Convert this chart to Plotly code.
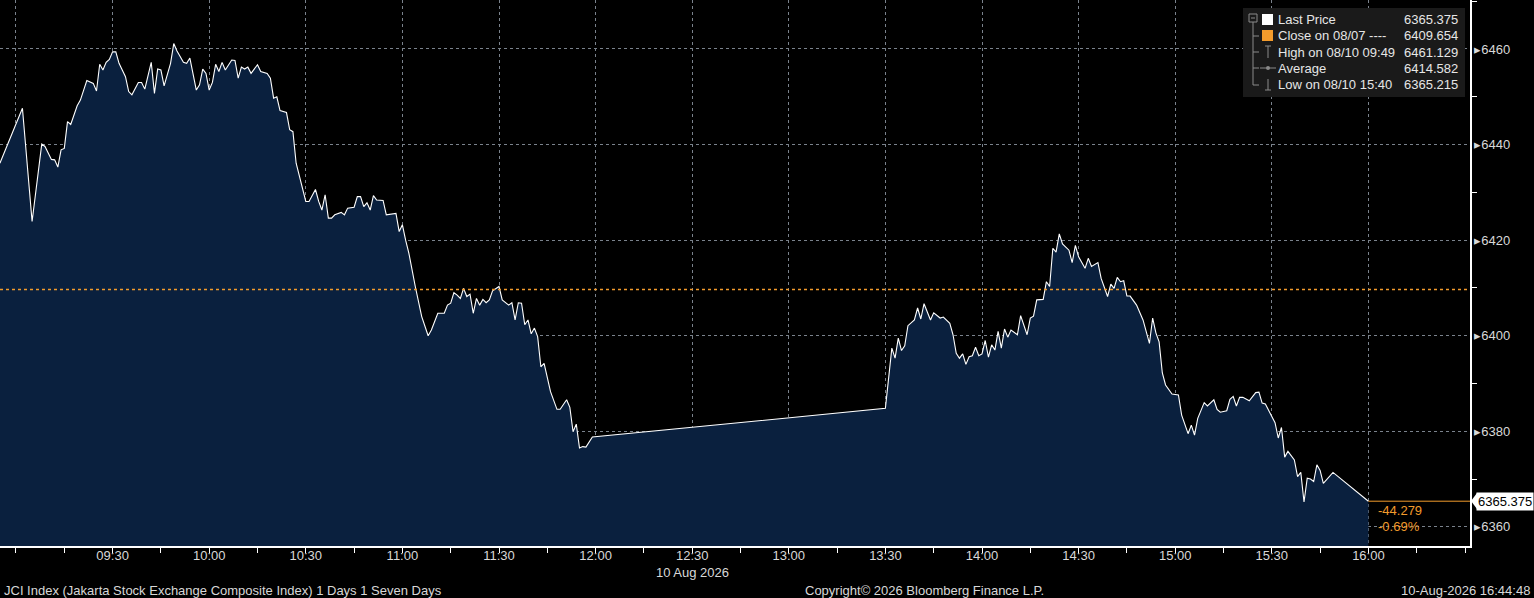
import plotly.graph_objects as go

# Intraday prints (10 Aug 2026, JCI)
day = '2026-08-10 '
times = ['08:55', '09:00', '09:02', '09:05', '09:08', '09:09', '09:11', '09:12', '09:13', '09:14',
         '09:15', '09:16', '09:17', '09:19', '09:20', '09:22', '09:24', '09:25', '09:26', '09:27',
         '09:28', '09:29', '09:30', '09:31', '09:32', '09:34', '09:35', '09:36', '09:38', '09:39',
         '09:40', '09:42', '09:43', '09:44', '09:45', '09:46', '09:48', '09:49', '09:50', '09:52',
         '09:53', '09:54', '09:56', '09:57', '09:58', '09:59', '10:00', '10:01', '10:02', '10:03',
         '10:04', '10:05', '10:07', '10:08', '10:09', '10:10', '10:11', '10:12', '10:13', '10:15',
         '10:16', '10:18', '10:19', '10:20', '10:21', '10:22', '10:24', '10:25', '10:26', '10:27',
         '10:28', '10:30', '10:31', '10:33', '10:34', '10:35', '10:36', '10:37', '10:38', '10:39',
         '10:41', '10:42', '10:43', '10:45', '10:46', '10:47', '10:48', '10:49', '10:50', '10:51',
         '10:52', '10:54', '10:55', '10:58', '10:59', '11:00', '11:01', '11:02', '11:04', '11:05',
         '11:06', '11:08', '11:09', '11:11', '11:13', '11:14', '11:15', '11:16', '11:17', '11:18',
         '11:19', '11:20', '11:21', '11:22', '11:23', '11:24', '11:25', '11:26', '11:27', '11:28',
         '11:30', '11:31', '11:33', '11:34', '11:35', '11:36', '11:37', '11:38', '11:39', '11:40',
         '11:41', '11:42', '11:43', '11:44', '11:46', '11:48', '11:49', '11:51', '11:52', '11:53',
         '11:54', '11:55', '11:56', '11:57', '11:59',
         '13:30', '13:32', '13:33', '13:34', '13:35', '13:36', '13:37', '13:39', '13:40', '13:41',
         '13:42', '13:44', '13:45', '13:47', '13:48', '13:50', '13:51', '13:52', '13:53', '13:54',
         '13:55', '13:56', '13:57', '13:58', '13:59', '14:00', '14:01', '14:02', '14:03', '14:04',
         '14:05', '14:06', '14:07', '14:08', '14:09', '14:11', '14:12', '14:13', '14:14', '14:15',
         '14:16', '14:17', '14:19', '14:20', '14:21', '14:22', '14:23', '14:24', '14:25', '14:27',
         '14:28', '14:29', '14:30', '14:32', '14:33', '14:34', '14:36', '14:37', '14:39', '14:40',
         '14:41', '14:42', '14:43', '14:44', '14:45', '14:46', '14:48', '14:50', '14:52', '14:53',
         '14:54', '14:55', '14:56', '14:57', '14:59', '15:01', '15:02', '15:04', '15:05', '15:06',
         '15:07', '15:09', '15:10', '15:12', '15:13', '15:14', '15:16', '15:17', '15:18', '15:19',
         '15:20', '15:21', '15:23', '15:25', '15:26', '15:27', '15:28', '15:30', '15:31', '15:32',
         '15:33', '15:34', '15:35', '15:37', '15:38', '15:39', '15:40', '15:41', '15:42', '15:43',
         '15:44', '15:45', '15:46', '15:49', '16:00']
prices = [6436.1, 6444.1, 6447.6, 6423.9, 6440.1, 6439.6, 6436.9, 6436.8, 6435.3, 6438.9,
          6439.2, 6444.8, 6444.2, 6448.1, 6449.3, 6453.4, 6452.8, 6451.2, 6456.8, 6455.6,
          6457.2, 6457.8, 6459.4, 6459.4, 6457.0, 6454.2, 6451.1, 6450.4, 6453.0, 6453.0,
          6451.6, 6457.2, 6450.7, 6455.8, 6455.6, 6452.3, 6457.0, 6461.129, 6459.6, 6457.2,
          6457.0, 6458.1, 6451.4, 6452.5, 6455.8, 6454.9, 6451.4, 6453.0, 6456.8, 6455.3,
          6457.2, 6455.6, 6457.7, 6457.6, 6453.9, 6456.2, 6455.8, 6456.2, 6454.9, 6456.7,
          6455.3, 6454.9, 6453.9, 6449.7, 6450.0, 6447.1, 6446.7, 6443.1, 6442.7, 6436.1,
          6433.3, 6428.1, 6428.1, 6430.6, 6428.1, 6426.3, 6429.5, 6424.6, 6424.6, 6425.3,
          6425.8, 6425.3, 6426.7, 6426.9, 6429.1, 6429.1, 6427.0, 6427.8, 6426.3, 6429.3,
          6428.4, 6428.3, 6425.3, 6425.6, 6421.8, 6423.2, 6420.0, 6417.3, 6410.3, 6406.8,
          6404.0, 6400.0, 6401.2, 6404.7, 6404.7, 6406.4, 6406.8, 6409.0, 6408.5, 6407.8,
          6409.9, 6408.2, 6408.7, 6404.7, 6407.8, 6406.4, 6407.6, 6406.9, 6407.5, 6409.4,
          6410.3, 6407.5, 6406.4, 6406.9, 6403.3, 6406.9, 6406.8, 6402.3, 6403.3, 6400.4,
          6401.6, 6399.8, 6393.5, 6394.2, 6388.3, 6384.6, 6384.6, 6386.6, 6385.0, 6379.9,
          6381.5, 6376.5, 6376.8, 6376.7, 6378.8,
          6384.8, 6397.4, 6395.3, 6399.5, 6396.9, 6397.9, 6402.1, 6403.3, 6405.8, 6403.5,
          6406.7, 6403.3, 6404.8, 6403.7, 6403.9, 6402.6, 6400.2, 6396.3, 6395.3, 6396.2,
          6394.0, 6395.6, 6395.8, 6397.6, 6395.8, 6396.2, 6399.0, 6395.5, 6398.1, 6397.0,
          6400.9, 6397.4, 6401.4, 6399.7, 6401.2, 6400.2, 6404.2, 6402.1, 6400.2, 6403.7,
          6404.1, 6407.5, 6407.6, 6411.3, 6410.3, 6418.3, 6417.5, 6421.3, 6419.2, 6417.9,
          6415.3, 6418.9, 6416.5, 6414.1, 6416.2, 6414.5, 6415.3, 6412.0, 6408.2, 6410.8,
          6409.9, 6412.2, 6411.3, 6411.5, 6408.3, 6408.3, 6406.4, 6403.3, 6398.4, 6403.7,
          6400.6, 6398.7, 6392.2, 6389.7, 6387.8, 6387.6, 6383.4, 6379.5, 6381.3, 6379.2,
          6382.7, 6386.0, 6385.3, 6386.6, 6384.6, 6384.0, 6384.3, 6386.7, 6387.3, 6385.3,
          6387.1, 6387.1, 6386.4, 6388.1, 6388.2, 6385.9, 6385.7, 6383.1, 6381.8, 6378.6,
          6380.8, 6374.6, 6375.8, 6374.0, 6370.5, 6371.4, 6365.215, 6370.2, 6370.0, 6369.5,
          6373.0, 6371.8, 6369.1, 6371.4, 6365.375]

prev_close = 6409.654
last_price = 6365.375
net_change = '-44.279'
pct_change = '-0.69%'

legend_rows = ['Last Price', 'Close on 08/07 ----', 'High on 08/10 09:49', 'Average', 'Low on 08/10 15:40']
legend_vals = ['6365.375', '6409.654', '6461.129', '6414.582', '6365.215']

x_ticks = ['09:00', '09:30', '10:00', '10:30', '11:00', '11:30', '12:00', '12:30', '13:00',
           '13:30', '14:00', '14:30', '15:00', '15:30', '16:00']
x_labels = [''] + x_ticks[1:]
y_ticks = [6360, 6380, 6400, 6420, 6440, 6460]
y_minor = [6370, 6390, 6410, 6430, 6450, 6470]

orange = '#f29b2c'
font = 'Liberation Sans'
fs = 13
PW, PH = 1470, 546  # plot area in px


def px(x):
    return x / PW


def py(y):
    return 1 - y / PH


x = [day + t for t in times]

fig = go.Figure()
fig.add_trace(go.Scatter(x=x, y=prices, mode='lines', line=dict(color='white', width=1.1),
                         fill='tozeroy', fillcolor='#0a203e', hoverinfo='skip'))

x_end = day + '16:31:33'
shapes = [
    dict(type='line', xref='paper', yref='y', x0=0, x1=1, y0=prev_close, y1=prev_close,
         line=dict(color=orange, width=1.5, dash='dot')),
    dict(type='line', xref='x', yref='y', x0=day + '16:00', x1=x_end, y0=last_price, y1=last_price,
         line=dict(color=orange, width=1)),
    # price tag pointer
    dict(type='path', xref='paper', yref='paper',
         path='M %f %f L %f %f L %f %f Z' % (px(1471), py(501), px(1477), py(493), px(1477), py(509)),
         fillcolor='white', line=dict(width=0)),
    # legend box
    dict(type='rect', xref='paper', yref='paper', x0=px(1243), x1=px(1465), y0=py(97), y1=py(8),
         fillcolor='#1a1a1a', line=dict(width=0), layer='above'),
    dict(type='rect', xref='paper', yref='paper', x0=px(1262), x1=px(1273), y0=py(25), y1=py(14),
         fillcolor='white', line=dict(width=0), layer='above'),
    dict(type='rect', xref='paper', yref='paper', x0=px(1262), x1=px(1273), y0=py(41), y1=py(30),
         fillcolor=orange, line=dict(width=0), layer='above'),
]
tree = '#8a8a8a'
segs = [(1249, 14, 1257, 14), (1249, 22, 1257, 22), (1249, 14, 1249, 22), (1257, 14, 1257, 22),
        (1251, 18, 1255, 18), (1253, 22, 1253, 85), (1253, 36, 1259, 36), (1253, 52, 1259, 52),
        (1253, 68, 1259, 68), (1253, 85, 1259, 85),
        (1268, 46, 1268, 58), (1265, 46, 1271, 46),
        (1260, 68, 1276, 68),
        (1268, 79, 1268, 90), (1265, 90, 1271, 90)]
for a, b, c, d in segs:
    shapes.append(dict(type='line', xref='paper', yref='paper', x0=px(a), y0=py(b), x1=px(c), y1=py(d),
                       line=dict(color=tree, width=1), layer='above'))
shapes.append(dict(type='circle', xref='paper', yref='paper', x0=px(1266), x1=px(1270), y0=py(70), y1=py(66),
                   fillcolor=tree, line=dict(width=0), layer='above'))

annotations = []
for i, (lab, val) in enumerate(zip(legend_rows, legend_vals)):
    yy = py(20 + i * 16)
    annotations.append(dict(xref='paper', yref='paper', x=px(1276), y=yy, text=lab, showarrow=False,
                            xanchor='left', yanchor='middle', font=dict(color='#e6e6e6', size=fs, family=font)))
    annotations.append(dict(xref='paper', yref='paper', x=px(1460), y=yy, text=val, showarrow=False,
                            xanchor='right', yanchor='middle', font=dict(color='#e6e6e6', size=fs, family=font)))

annotations += [
    dict(xref='paper', yref='y', x=px(1476), y=last_price, text='6365.375', showarrow=False,
         xanchor='left', yanchor='middle', bgcolor='white', borderpad=1,
         font=dict(color='black', size=fs, family=font)),
    dict(xref='x', yref='y', x=day + '16:00', y=last_price, text=net_change, showarrow=False,
         xanchor='left', yanchor='middle', xshift=8, yshift=-9, font=dict(color=orange, size=fs, family=font)),
    dict(xref='x', yref='y', x=day + '16:00', y=last_price, text=pct_change, showarrow=False,
         xanchor='left', yanchor='middle', xshift=8, yshift=-25, font=dict(color=orange, size=fs, family=font)),
    dict(xref='x', yref='paper', x=day + '12:30', y=py(572), text='10 Aug 2026', showarrow=False,
         xanchor='center', yanchor='middle', font=dict(color='#d8d8d8', size=fs, family=font)),
    dict(xref='paper', yref='paper', x=px(2), y=py(590),
         text='JCI Index (Jakarta Stock Exchange Composite Index) 1 Days 1 Seven Days', showarrow=False,
         xanchor='left', yanchor='middle', font=dict(color='#d8d8d8', size=fs, family=font)),
    dict(xref='paper', yref='paper', x=px(924), y=py(590), text='Copyright© 2026 Bloomberg Finance L.P.',
         showarrow=False, xanchor='center', yanchor='middle', font=dict(color='#d8d8d8', size=fs, family=font)),
    dict(xref='paper', yref='paper', x=px(1532), y=py(590), text='10-Aug-2026 16:44:48', showarrow=False,
         xanchor='right', yanchor='middle', font=dict(color='#d8d8d8', size=fs, family=font)),
]

fig.update_layout(
    width=1534, height=598, margin=dict(l=0, r=1534 - PW, t=0, b=598 - PH),
    paper_bgcolor='black', plot_bgcolor='black', showlegend=False,
    font=dict(family=font, size=fs, color='#d8d8d8'),
    shapes=shapes, annotations=annotations,
    xaxis=dict(type='date', range=[day + '08:55:02', x_end],
               tickvals=[day + t for t in x_ticks], ticktext=x_labels,
               showgrid=True, gridcolor='#7a828c', griddash='dot', gridwidth=1,
               showline=True, linecolor='white', linewidth=1.5,
               ticks='outside', ticklen=5, tickcolor='white', ticklabelstandoff=-8,
               minor=dict(dtick=15 * 60 * 1000, tick0=day + '09:00', ticks='outside', ticklen=5,
                          tickcolor='white', showgrid=False),
               tickfont=dict(color='#d8d8d8', size=fs), zeroline=False),
    yaxis=dict(side='right', range=[6356, 6470.25],
               tickvals=y_ticks, ticktext=['\u25b8' + str(v) for v in y_ticks],
               showgrid=True, gridcolor='#7a828c', griddash='dot', gridwidth=1,
               showline=True, linecolor='white', linewidth=1.5,
               ticks='', ticklabelstandoff=0,
               minor=dict(tickvals=y_minor, ticks='outside', ticklen=5, tickcolor='white', showgrid=False),
               tickfont=dict(color='#d8d8d8', size=fs), zeroline=False),
)

# the page body has a default 8px margin; drop it so the figure fills the window
fig.write_html('out.html', config={'displayModeBar': False},
               post_script="document.body.style.margin='0';")
